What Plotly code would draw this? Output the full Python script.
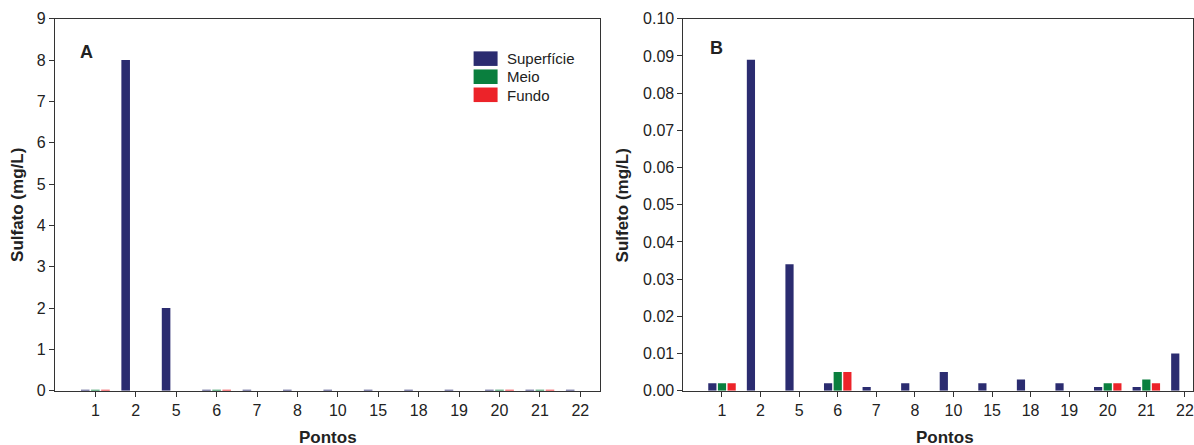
import plotly.graph_objects as go

# Sampling points along the x axis
pontos = ["1", "2", "5", "6", "7", "8", "10", "15", "18", "19", "20", "21", "22"]

# Panel A - sulfate (mg/L) by depth
sulfato_superficie = [0.02, 8.0, 2.0, 0.02, 0.02, 0.02, 0.02, 0.02, 0.02, 0.02, 0.02, 0.02, 0.02]
sulfato_meio = [0.02, 0, 0, 0.02, 0, 0, 0, 0, 0, 0, 0.02, 0.02, 0]
sulfato_fundo = [0.02, 0, 0, 0.02, 0, 0, 0, 0, 0, 0, 0.02, 0.02, 0]

# Panel B - sulfide (mg/L) by depth
sulfeto_superficie = [0.002, 0.089, 0.034, 0.002, 0.001, 0.002, 0.005, 0.002, 0.003, 0.002, 0.001, 0.001, 0.010]
sulfeto_meio = [0.002, 0, 0, 0.005, 0, 0, 0, 0, 0, 0, 0.002, 0.003, 0]
sulfeto_fundo = [0.002, 0, 0, 0.005, 0, 0, 0, 0, 0, 0, 0.002, 0.002, 0]

serie_nomes = ["Superfície", "Meio", "Fundo"]
serie_cores = ["#2B2C70", "#0A7F3E", "#EC2329"]

W, H = 1194, 463
# vertical page placement of the figure (offset and scale in screen pixels)
Y_OFF, Y_SCALE = 7.8, 0.9595
FONT = "Liberation Sans, Arial, sans-serif"
TXT = "#222222"
AXC = "#333333"

fig = go.Figure()

for nome, cor, ya, yb in zip(serie_nomes, serie_cores,
                             [sulfato_superficie, sulfato_meio, sulfato_fundo],
                             [sulfeto_superficie, sulfeto_meio, sulfeto_fundo]):
    fig.add_trace(go.Bar(x=pontos, y=ya, name=nome, marker_color=cor,
                         marker_line_width=0, xaxis="x", yaxis="y", showlegend=False))
    fig.add_trace(go.Bar(x=pontos, y=yb, name=nome, marker_color=cor,
                         marker_line_width=0, xaxis="x2", yaxis="y2", showlegend=False))

def px_x(p):
    return p / W

def px_y(p):
    return 1 - ((p - Y_OFF) / Y_SCALE) / H

y_dom = [px_y(389), px_y(18.5)]

axis_common = dict(
    showline=True, linecolor=AXC, linewidth=1, mirror=True,
    ticks="outside", ticklen=5, tickcolor=AXC, tickwidth=1,
    showgrid=False, zeroline=False,
    tickfont=dict(family=FONT, size=16, color=TXT),
)

fig.update_layout(
    width=W, height=H,
    margin=dict(l=0, r=0, t=0, b=0),
    paper_bgcolor="white", plot_bgcolor="white",
    barmode="group", bargap=0.25, bargroupgap=0.15,
    showlegend=False,
    xaxis=dict(domain=[px_x(55), px_x(601)], anchor="y", type="category",
               categoryorder="array", categoryarray=pontos,
               range=[-1, 12.5], **axis_common),
    yaxis=dict(domain=y_dom, anchor="x", range=[0, 9], dtick=1, **axis_common),
    xaxis2=dict(domain=[px_x(684), 1.0], anchor="y2", type="category",
                categoryorder="array", categoryarray=pontos,
                range=[-1, 12.21], **axis_common),
    yaxis2=dict(domain=y_dom, anchor="x2", range=[0, 0.1], dtick=0.01,
                tickformat=".2f", **axis_common),
)

# Axis titles and panel letters
ann = [
    dict(text="<b>Pontos</b>", x=px_x(328), y=px_y(436)),
    dict(text="<b>Pontos</b>", x=px_x(946), y=px_y(436)),
    dict(text="<b>Sulfato (mg/L)</b>", x=px_x(18), y=px_y(204), textangle=-90),
    dict(text="<b>Sulfeto (mg/L)</b>", x=px_x(623), y=px_y(204), textangle=-90),
]
for a in ann:
    fig.add_annotation(xref="paper", yref="paper", showarrow=False,
                       xanchor="center", yanchor="middle",
                       font=dict(family=FONT, size=17, color=TXT), **a)

for letra, xp, yp in [("A", 87, 52), ("B", 717, 48)]:
    fig.add_annotation(text=f"<b>{letra}</b>", xref="paper", yref="paper",
                       x=px_x(xp), y=px_y(yp), showarrow=False,
                       xanchor="center", yanchor="middle",
                       font=dict(family=FONT, size=18, color=TXT))

# Legend drawn inside panel A
for i, (nome, cor) in enumerate(zip(serie_nomes, serie_cores)):
    top = 51 + i * 18
    fig.add_shape(type="rect", xref="paper", yref="paper",
                  x0=px_x(474), x1=px_x(498), y0=px_y(top + 14.5), y1=px_y(top),
                  fillcolor=cor, line_width=0)
    fig.add_annotation(text=nome, xref="paper", yref="paper",
                       x=px_x(505), y=px_y(top + 7.5), showarrow=False,
                       xanchor="left", yanchor="middle",
                       font=dict(family=FONT, size=15, color=TXT))

fig.write_html("out.html")
